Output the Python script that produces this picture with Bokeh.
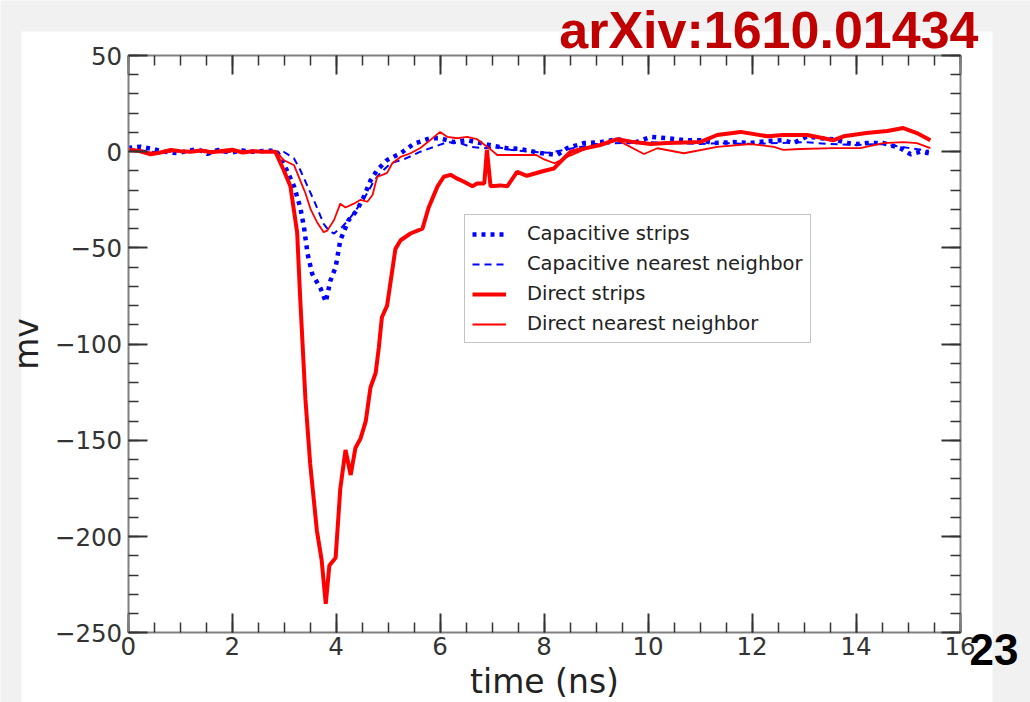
from bokeh.plotting import figure
from bokeh.models import Range1d, FixedTicker, LinearAxis, Legend, LegendItem, Label, BoxAnnotation
from bokeh.embed import file_html
from bokeh.resources import INLINE

# ---------------- data ----------------
x_ticks = [0, 2, 4, 6, 8, 10, 12, 14, 16]
x_tick_labels = ["0", "2", "4", "6", "8", "10", "12", "14", "16"]
y_ticks = [-250, -200, -150, -100, -50, 0, 50]
y_tick_labels = ["\u2212250", "\u2212200", "\u2212150", "\u2212100", "\u221250", "0", "50"]
x_limits = (0, 16)
y_limits = (-250, 50)

# Capacitive strips
cs_t = [0.0, 0.24, 0.47, 0.7, 0.95, 1.15, 1.33, 1.52, 1.72, 1.98, 2.2, 2.4, 2.6, 2.85,
        2.99, 3.19, 3.31, 3.38, 3.45, 3.54, 3.70, 3.80, 3.89, 3.99, 4.08, 4.24, 4.40,
        4.53, 4.66, 4.79, 4.98, 5.24, 5.49, 5.81, 6.0, 6.26, 6.52, 6.78, 7.03, 7.29,
        7.55, 7.93, 8.25, 8.44, 8.76, 9.08, 9.41, 9.72, 10.05, 10.37, 10.69, 11.0,
        11.27, 11.65, 11.97, 12.3, 12.6, 12.8, 13.06, 13.3, 13.57, 13.83, 14.02, 14.2,
        14.53, 14.85, 15.05, 15.24, 15.4]
cs_v = [2.0, 2.6, 1.4, 0.0, -0.8, 0.5, 1.4, -1.2, 0.9, -0.5, 0.6, 0.0, 0.4, 0.5,
        -6, -18, -29, -39, -53, -63.5, -71, -78, -67, -60, -46, -35.5, -30.5,
        -23.5, -15, -9.5, -4.3, -0.8, 4, 7, 7, 5, 6, 4.5, 3, 1.8,
        1.4, -0.7, -1.7, 1.8, 4.5, 5, 6.5, 4.5, 7.7, 7, 6, 6,
        4.5, 5, 4.5, 5.6, 6, 4.5, 8, 7, 6.5, 4.5, 4, 4.5,
        4.5, 1.8, -1.3, 0, -0.8]

# Capacitive nearest neighbor
cn_t = [0.0, 0.3, 0.6, 0.9, 1.2, 1.5, 1.8, 2.1, 2.4, 2.7, 2.99, 3.19, 3.31, 3.45,
        3.60, 3.76, 3.86, 3.96, 4.02, 4.12, 4.28, 4.47, 4.60, 4.72, 4.85, 5.05, 5.30,
        5.62, 5.88, 6.14, 6.39, 6.58, 6.84, 7.10, 7.35, 7.7, 8.1, 8.5, 9.0, 9.5, 10.0,
        10.5, 11.0, 11.5, 12.0, 12.5, 13.0, 13.5, 14.0, 14.5, 15.0, 15.4]
cn_v = [1.5, 0.5, -0.5, 0.3, 0.0, 0.8, -0.5, 0.4, 0.0, 0.2, 0.0, -3.5, -9.5, -18,
        -27, -37.5, -41, -42.5, -41, -39, -34, -27, -21.5, -15.5, -11, -6, -4,
        0, 2.5, 5, 4.5, 2.5, 1.8, 2.5, 1, 0, -0.5, 1.5, 4, 4.5, 5,
        4.5, 4, 4.5, 4, 4.5, 5, 4, 3.5, 4, 2, 0.5]

# Direct strips
ds_t = [0.0, 0.2, 0.43, 0.6, 0.82, 1.0, 1.2, 1.4, 1.6, 1.8, 2.0, 2.2, 2.4, 2.6, 2.83,
        2.99, 3.12, 3.25, 3.31, 3.41, 3.50, 3.63, 3.72, 3.80, 3.87, 3.99, 4.08, 4.18,
        4.28, 4.37, 4.47, 4.57, 4.66, 4.76, 4.82, 4.88, 4.98, 5.14, 5.24, 5.43, 5.66,
        5.78, 5.95, 6.07, 6.20, 6.33, 6.45, 6.62, 6.71, 6.85, 6.90, 6.97, 7.16, 7.29,
        7.48, 7.67, 7.99, 8.19, 8.38, 8.51, 8.83, 9.08, 9.41, 9.72, 10.05, 10.37, 11.0,
        11.33, 11.78, 12.3, 12.6, 13.06, 13.57, 13.76, 14.2, 14.6, 14.91, 15.17, 15.43]
ds_v = [1.0, 0.5, -1.3, -0.5, 0.9, 0.3, 0.0, 0.6, -0.3, 0.4, 1.0, -0.4, 0.2, 0.0, 0.0,
        -9.5, -18, -42, -77, -129, -162, -197, -212, -235, -215, -211, -175, -155,
        -168, -154, -149, -140, -122.5, -115, -102, -86, -80, -50.5, -46, -42.5, -40,
        -29, -18, -13, -12, -14, -15.5, -18, -16.5, -16.5, 1, -18, -17.5, -18,
        -10.5, -12.5, -10, -8.7, -3.5, 0, 2, 3.5, 6.5, 5, 4, 4.5, 5,
        8.7, 10.3, 8, 8.7, 8.7, 6, 8, 9.7, 10.8, 12.3, 9.7, 6]

# Direct nearest neighbor
dn_t = [0.0, 0.3, 0.6, 0.9, 1.2, 1.5, 1.8, 2.1, 2.4, 2.7, 2.85, 2.99, 3.19, 3.31, 3.41,
        3.51, 3.63, 3.76, 3.83, 3.96, 4.08, 4.18, 4.34, 4.47, 4.60, 4.70, 4.79, 4.89,
        4.98, 5.08, 5.24, 5.43, 5.62, 5.81, 6.0, 6.14, 6.33, 6.52, 6.71, 6.91, 7.10,
        7.29, 7.48, 7.85, 8.0, 8.2, 8.5, 8.8, 9.1, 9.41, 9.92, 10.18, 10.69, 11.33,
        11.97, 12.42, 12.6, 12.93, 13.57, 14.08, 14.53, 14.91, 15.17, 15.43]
dn_v = [0.5, 0.0, -0.8, 0.4, 0.0, 0.6, -0.4, 0.5, 0.0, 0.2, 0.0, -4.3, -7, -15, -21.6,
        -30, -36.5, -41.8, -41, -35.5, -27, -29, -27, -25, -26, -22.5, -13, -12,
        -11, -6, -2.7, -0.8, 1.9, 6, 10.3, 7.7, 7, 7.7, 6.5, 2.5, -1.7,
        -1.7, -1.7, -1.7, -4, -6, -2, 1.5, 3.5, 6, -1.2, 1.8, -0.8, 2.5,
        4, 2.5, 1, 1.4, 1.9, 1.9, 4.5, 5, 4.5, 1.9]

series_labels = ["Capacitive strips", "Capacitive nearest neighbor",
                 "Direct strips", "Direct nearest neighbor"]

# ---------------- layout geometry (pixels) ----------------
W, H = 1030, 702
BOX_L, BOX_R, BOX_T, BOX_B = 127.7, 959.5, 55.0, 632.3
sx = (BOX_R - BOX_L) / (x_limits[1] - x_limits[0])
sy = (BOX_B - BOX_T) / (y_limits[1] - y_limits[0])
x_range = Range1d(x_limits[0] - BOX_L / sx, x_limits[1] + (W - BOX_R) / sx)
y_range = Range1d(y_limits[0] - (H - BOX_B) / sy, y_limits[1] + BOX_T / sy)


def px_x(px):
    return x_limits[0] + (px - BOX_L) / sx


def px_y(py):
    return y_limits[1] - (py - BOX_T) / sy


p = figure(width=W, height=H, output_backend="svg", toolbar_location=None,
           x_range=x_range, y_range=y_range,
           min_border=0, x_axis_label="time (ns)", y_axis_label="mv")
p.grid.visible = False
p.background_fill_color = "#f1f1f1"
p.border_fill_color = "#f1f1f1"
p.outline_line_color = None

# white slide area behind the chart
p.add_layout(BoxAnnotation(left=px_x(21), right=px_x(992), top=px_y(31),
                           bottom=px_y(H + 10), fill_color="white", fill_alpha=1,
                           line_color=None, level="underlay"))

bottom_axis = p.below[0]
left_axis = p.left[0]
top_axis = LinearAxis()
right_axis = LinearAxis()
p.add_layout(top_axis, "above")
p.add_layout(right_axis, "right")

bottom_axis.fixed_location = y_limits[0]
top_axis.fixed_location = y_limits[1]
left_axis.fixed_location = x_limits[0]
right_axis.fixed_location = x_limits[1]

x_minor = [i * 0.5 for i in range(33)]
y_minor = [-250 + i * 10 for i in range(31)]

for ax in [bottom_axis, top_axis]:
    ax.ticker = FixedTicker(ticks=x_ticks, minor_ticks=x_minor)
    ax.bounds = x_limits
for ax in [left_axis, right_axis]:
    ax.ticker = FixedTicker(ticks=y_ticks, minor_ticks=y_minor)
    ax.bounds = y_limits

bottom_axis.major_label_overrides = {t: l for t, l in zip(x_ticks, x_tick_labels)}
left_axis.major_label_overrides = {t: l for t, l in zip(y_ticks, y_tick_labels)}

for ax in [bottom_axis, left_axis, top_axis, right_axis]:
    ax.axis_line_color = "#808080"
    ax.axis_line_width = 2
    ax.major_tick_in = 19
    ax.major_tick_out = 0
    ax.minor_tick_in = 10
    ax.minor_tick_out = 0
    ax.major_tick_line_color = "#333333"
    ax.major_tick_line_width = 2
    ax.minor_tick_line_color = "#333333"
    ax.minor_tick_line_width = 1.5
    ax.major_label_text_font = "DejaVu Sans"
    ax.major_label_text_font_size = "24.5px"
    ax.major_label_text_color = "#333333"
    ax.axis_label_text_font = "DejaVu Sans"
    ax.axis_label_text_font_size = "33px"
    ax.axis_label_text_font_style = "normal"
    ax.axis_label_text_color = "#222222"

for ax in [top_axis, right_axis]:
    ax.major_label_text_alpha = 0
    ax.major_label_text_font_size = "1px"
    ax.major_label_standoff = 0

bottom_axis.major_label_standoff = 4
bottom_axis.axis_label_standoff = 4
left_axis.major_label_standoff = 6
left_axis.axis_label_standoff = 6

r_cs = p.line(cs_t, cs_v, line_color="#0000ff", line_width=4.5, line_dash="4 5")
r_cn = p.line(cn_t, cn_v, line_color="#0000ff", line_width=2, line_dash="7 5")
r_ds = p.line(ds_t, ds_v, line_color="#ff0000", line_width=4)
r_dn = p.line(dn_t, dn_v, line_color="#ff0000", line_width=1.8)

legend = Legend(items=[LegendItem(label=series_labels[0], renderers=[r_cs]),
                       LegendItem(label=series_labels[1], renderers=[r_cn]),
                       LegendItem(label=series_labels[2], renderers=[r_ds]),
                       LegendItem(label=series_labels[3], renderers=[r_dn])],
                location=(464, H - 343))
legend.label_text_font = "DejaVu Sans"
legend.label_text_font_size = "19.5px"
legend.label_text_color = "#222222"
legend.glyph_width = 34
legend.glyph_height = 20
legend.label_height = 20
legend.spacing = 7
legend.padding = 7
legend.margin = 0
legend.label_standoff = 21
legend.border_line_color = "#888888"
legend.border_line_width = 1.5
legend.background_fill_color = "white"
legend.background_fill_alpha = 1
p.add_layout(legend)

p.add_layout(Label(x=px_x(978), y=px_y(29), text="arXiv:1610.01434", text_align="right",
                   text_baseline="alphabetic", text_font="Liberation Sans",
                   text_font_style="bold", text_font_size="52px",
                   text_color="#c00000"))
p.add_layout(Label(x=px_x(1018), y=px_y(649), text="23", text_align="right",
                   text_baseline="alphabetic", text_font="Liberation Sans",
                   text_font_style="bold", text_font_size="44px",
                   text_color="black"))

open("out.html", "w").write(file_html(p, INLINE))
